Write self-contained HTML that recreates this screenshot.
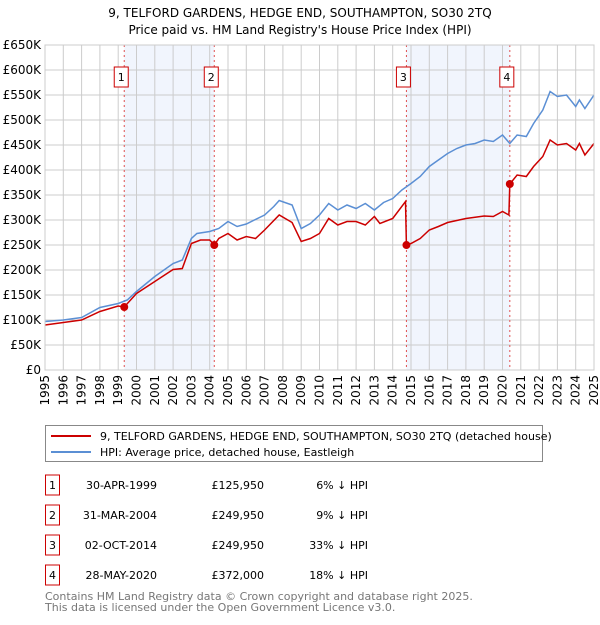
<!DOCTYPE html>
<html><head><meta charset="utf-8"><style>
body{margin:0;background:#fff;font-family:"Liberation Sans","DejaVu Sans",sans-serif;}
svg text{font-family:"DejaVu Sans","Liberation Sans",sans-serif;}
</style></head><body>
<svg id="c" width="600" height="620" xmlns="http://www.w3.org/2000/svg">
<text x="300" y="17" text-anchor="middle" font-size="12">9, TELFORD GARDENS, HEDGE END, SOUTHAMPTON, SO30 2TQ</text>
<text x="300" y="34" text-anchor="middle" font-size="12">Price paid vs. HM Land Registry's House Price Index (HPI)</text>
<g id="plot"></g>
<g>
<rect x="45.5" y="425.5" width="497" height="36" fill="#fff" stroke="#888"/>
<line x1="51" y1="436" x2="91" y2="436" stroke="#cc0000" stroke-width="2"/>
<text x="100" y="440" font-size="11">9, TELFORD GARDENS, HEDGE END, SOUTHAMPTON, SO30 2TQ (detached house)</text>
<line x1="51" y1="452" x2="91" y2="452" stroke="#5b8fd4" stroke-width="2"/>
<text x="100" y="456" font-size="11">HPI: Average price, detached house, Eastleigh</text>
</g>
<g id="table" font-size="11"></g>
<text x="45" y="600" font-size="11" fill="#777">Contains HM Land Registry data © Crown copyright and database right 2025.</text>
<text x="45" y="611" font-size="11" fill="#777">This data is licensed under the Open Government Licence v3.0.</text>
</svg>
<script>
const hpiYears=[1995,1996,1997,1998,1999,1999.5,2000,2001,2002,2002.5,2003,2003.3,2004,2004.5,2005,2005.5,2006,2007,2007.5,2007.8,2008.5,2009,2009.5,2010,2010.5,2011,2011.5,2012,2012.5,2013,2013.5,2014,2014.5,2015,2015.5,2016,2016.5,2017,2017.5,2018,2018.5,2019,2019.5,2020,2020.4,2020.8,2021.3,2021.7,2022.2,2022.6,2023,2023.5,2024,2024.2,2024.5,2025];
const hpiValues=[97,100,105,125,133,140,157,187,213,220,263,273,277,283,297,287,292,310,327,339,330,283,293,310,333,320,330,323,333,320,335,343,360,373,387,407,420,433,443,450,453,460,457,470,453,470,467,493,520,557,547,550,527,540,523,550];
const priceYears=[1995,1996,1997,1998,1999,1999.33,2000,2001,2002,2002.5,2003,2003.5,2004,2004.25,2004.5,2005,2005.5,2006,2006.5,2007,2007.8,2008.5,2009,2009.5,2010,2010.5,2011,2011.5,2012,2012.5,2013,2013.3,2014,2014.7,2014.75,2015,2015.5,2016,2016.5,2017,2018,2019,2019.5,2020,2020.35,2020.4,2020.8,2021.3,2021.7,2022.2,2022.6,2023,2023.5,2024,2024.2,2024.5,2025];
const priceValues=[90,95,100,117,128,125.95,153,177,201,203,253,260,260,249.95,263,273,260,267,263,280,310,295,257,263,273,303,290,297,297,290,307,293,303,337,249.95,253,263,280,287,295,303,308,307,317,310,372,390,387,407,427,460,450,453,440,453,430,453];
const saleYears=[1999.33,2004.25,2014.75,2020.4];
const saleValues=[125.95,249.95,249.95,372];
const saleLabels=["1","2","3","4"];
const saleDates=["30-APR-1999","31-MAR-2004","02-OCT-2014","28-MAY-2020"];
const salePrices=["£125,950","£249,950","£249,950","£372,000"];
const salePcts=["6% ↓ HPI","9% ↓ HPI","33% ↓ HPI","18% ↓ HPI"];
const yTicks=[0,50,100,150,200,250,300,350,400,450,500,550,600,650];
const xTicks=[1995,1996,1997,1998,1999,2000,2001,2002,2003,2004,2005,2006,2007,2008,2009,2010,2011,2012,2013,2014,2015,2016,2017,2018,2019,2020,2021,2022,2023,2024,2025];
const NS="http://www.w3.org/2000/svg";
const X0=45,X1=594,Y0=370,Y1=45;
const xs=y=>X0+(y-1995)/30*(X1-X0);
const ys=v=>Y0-v/650*(Y0-Y1);
const plot=document.getElementById('plot');
function mk(tag,attrs,parent){const e=document.createElementNS(NS,tag);for(const k in attrs)e.setAttribute(k,attrs[k]);(parent||plot).appendChild(e);return e;}
for(let i=0;i<saleYears.length;i+=2){
 const r=mk('rect',{x:xs(saleYears[i]),y:Y1,width:xs(saleYears[i+1])-xs(saleYears[i]),height:Y0-Y1,fill:'#eef3fc',opacity:0.8});
 
 
}
yTicks.forEach(v=>{
 const l=mk('line',{x1:X0,x2:X1,y1:ys(v),y2:ys(v),stroke:'#ccc','stroke-width':1});
 
 
 const t=mk('text',{x:X0-4,y:ys(v)+4,'text-anchor':'end','font-size':12});
 t.textContent='£'+(v===0?'0':v+'K');
 
 
});
xTicks.forEach(yr=>{
 const l=mk('line',{x1:xs(yr),x2:xs(yr),y1:Y1,y2:Y0,stroke:'#ccc','stroke-width':1});
 
 
 const t=mk('text',{x:0,y:0,'text-anchor':'end','font-size':12,transform:`translate(${xs(yr)+4},375) rotate(-90)`});
 t.textContent=yr;
 
 
});
saleYears.forEach((yr,i)=>{
 const l=mk('line',{x1:xs(yr),x2:xs(yr),y1:Y1,y2:Y0,stroke:'#e05050','stroke-width':1,'stroke-dasharray':'2,3'});
 
 
 const b=mk('rect',{x:xs(yr)-10,y:67,width:14,height:20,fill:'#fff',stroke:'#cc0000'});
 
 
 const t=mk('text',{x:xs(yr)-3,y:81,'text-anchor':'middle','font-size':11});
 t.textContent=saleLabels[i];
 
 
});
const path=(xa,va)=>xa.map((x,i)=>(i?'L':'M')+xs(x).toFixed(1)+','+ys(va[i]).toFixed(1)).join('');
const hp=mk('path',{d:path(hpiYears,hpiValues),fill:'none',stroke:'#5b8fd4','stroke-width':1.5});


const pp=mk('path',{d:path(priceYears,priceValues),fill:'none',stroke:'#cc0000','stroke-width':1.5});


saleYears.forEach((yr,i)=>{
 const c=mk('circle',{cx:xs(yr),cy:ys(saleValues[i]),r:4,fill:'#cc0000'});
 
 
});
const fr=mk('rect',{x:X0,y:Y1,width:X1-X0,height:Y0-Y1,fill:'none',stroke:'#ccc'});


const tb=document.getElementById('table');
saleLabels.forEach((lab,i)=>{
 const y=483+i*30;
 const b=mk('rect',{x:45.5,y:y-8,width:14,height:20,fill:'#fff',stroke:'#cc0000'},tb);
 
 
 const cols=[[52.5,lab,'middle','table-row-number'],[157,saleDates[i],'end','table-row-date'],[264,salePrices[i],'end','table-row-price'],[368,salePcts[i],'end','table-row-hpi-diff']];
 cols.forEach(c=>{
  const t=mk('text',{x:c[0],y:y+6,'text-anchor':c[2],'font-size':11},tb);
  t.textContent=c[1];
  
  
 });
});
</script>
</body></html>
